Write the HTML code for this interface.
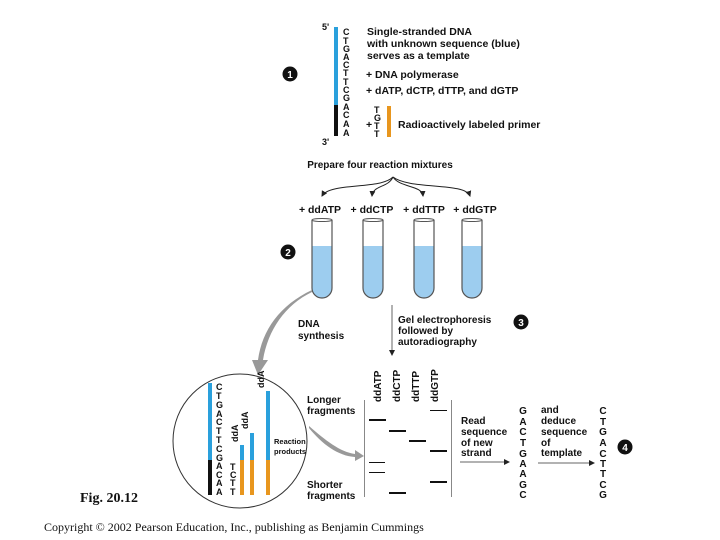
<!DOCTYPE html>
<html><head><meta charset="utf-8"><style>
body{margin:0;background:#fff}
svg{display:block}
text{font-family:"Liberation Sans",sans-serif;font-weight:bold;fill:#111}
.s{font-size:10.5px}
.m{font-size:10px}
.l{font-size:9px}
</style></head><body>
<svg width="720" height="540" viewBox="0 0 720 540">
<defs>
<marker id="a" markerWidth="6" markerHeight="6" refX="5" refY="3" orient="auto"><path d="M0,0L6,3L0,6z" fill="#222"/></marker>
</defs>
<text x="322" y="30" class="l" font-size="7">5'</text>
<text x="322" y="145" class="l" font-size="7">3'</text>
<rect x="334" y="27" width="4" height="78" fill="#2aa0dc"/>
<rect x="334" y="105" width="4" height="31" fill="#111"/>
<g class="l" font-size="9">
<text x="343" y="35">C</text><text x="343" y="44">T</text><text x="343" y="52">G</text><text x="343" y="60">A</text><text x="343" y="68">C</text><text x="343" y="76">T</text><text x="343" y="85">T</text><text x="343" y="93">C</text><text x="343" y="101">G</text><text x="343" y="110">A</text><text x="343" y="118">C</text><text x="343" y="127">A</text><text x="343" y="136">A</text>
</g>
<g class="l" font-size="8.5">
<text x="374" y="113">T</text><text x="374" y="121">G</text><text x="374" y="129">T</text><text x="374" y="137">T</text>
</g>
<rect x="387" y="106" width="4" height="31" fill="#e8961e"/>
<text x="367" y="35" class="s">Single-stranded DNA</text>
<text x="367" y="47" class="s">with unknown sequence (blue)</text>
<text x="367" y="59" class="s">serves as a template</text>
<text x="366" y="78" class="s">+ DNA polymerase</text>
<text x="366" y="94" class="s">+ dATP, dCTP, dTTP, and dGTP</text>
<text x="366" y="128" class="s">+</text>
<text x="398" y="128" class="s">Radioactively labeled primer</text>
<circle cx="290" cy="74" r="7.5" fill="#111"/><text x="290" y="78" text-anchor="middle" font-size="10" style="fill:#fff">1</text>
<text x="380" y="168" class="m" text-anchor="middle">Prepare four reaction mixtures</text>
<g fill="none" stroke="#222" stroke-width="1">
<path d="M393,177 C380,190 330,182 322,196" marker-end="url(#a)"/>
<path d="M393,177 C388,188 373,185 372,196" marker-end="url(#a)"/>
<path d="M393,177 C400,188 422,185 423,196" marker-end="url(#a)"/>
<path d="M393,177 C410,190 465,182 470,196" marker-end="url(#a)"/>
</g>
<text x="320" y="213" class="s" text-anchor="middle">+ ddATP</text>
<text x="372" y="213" class="s" text-anchor="middle">+ ddCTP</text>
<text x="424" y="213" class="s" text-anchor="middle">+ ddTTP</text>
<text x="475" y="213" class="s" text-anchor="middle">+ ddGTP</text>
<g>
<path d="M312,246 H332 V288 A10,10 0 0 1 312,288 Z" fill="#9dcdef"/>
<path d="M312,220 V288 A10,10 0 0 0 332,288 V220" fill="none" stroke="#555" stroke-width="1.2"/>
<ellipse cx="322" cy="220" rx="10" ry="1.5" fill="none" stroke="#555"/>
<path d="M363,246 H383 V288 A10,10 0 0 1 363,288 Z" fill="#9dcdef"/>
<path d="M363,220 V288 A10,10 0 0 0 383,288 V220" fill="none" stroke="#555" stroke-width="1.2"/>
<ellipse cx="373" cy="220" rx="10" ry="1.5" fill="none" stroke="#555"/>
<path d="M414,246 H434 V288 A10,10 0 0 1 414,288 Z" fill="#9dcdef"/>
<path d="M414,220 V288 A10,10 0 0 0 434,288 V220" fill="none" stroke="#555" stroke-width="1.2"/>
<ellipse cx="424" cy="220" rx="10" ry="1.5" fill="none" stroke="#555"/>
<path d="M462,246 H482 V288 A10,10 0 0 1 462,288 Z" fill="#9dcdef"/>
<path d="M462,220 V288 A10,10 0 0 0 482,288 V220" fill="none" stroke="#555" stroke-width="1.2"/>
<ellipse cx="472" cy="220" rx="10" ry="1.5" fill="none" stroke="#555"/>
</g>
<circle cx="288" cy="252" r="7.5" fill="#111"/><text x="288" y="256" text-anchor="middle" font-size="10" style="fill:#fff">2</text>
<path d="M312,290 C280,305 262,330 258,360 L252,360 L258,375 L268,360 L263,360 C268,330 285,305 312,292 Z" fill="#999"/>
<text x="298" y="327" class="m">DNA</text>
<text x="298" y="339" class="m">synthesis</text>
<line x1="392" y1="305" x2="392" y2="355" stroke="#666" marker-end="url(#a)"/>
<text x="398" y="323" class="m">Gel electrophoresis</text>
<text x="398" y="334" class="m">followed by</text>
<text x="398" y="345" class="m">autoradiography</text>
<circle cx="521" cy="322" r="7.5" fill="#111"/><text x="521" y="326" text-anchor="middle" font-size="10" style="fill:#fff">3</text>
<circle cx="240" cy="441" r="67" fill="none" stroke="#333" stroke-width="1"/>
<rect x="208" y="383" width="4" height="77" fill="#2aa0dc"/>
<rect x="208" y="460" width="4" height="35" fill="#111"/>
<g class="l" font-size="8.5">
<text x="216" y="390">C</text><text x="216" y="399">T</text><text x="216" y="408">G</text><text x="216" y="417">A</text><text x="216" y="425">C</text><text x="216" y="434">T</text><text x="216" y="443">T</text><text x="216" y="452">C</text><text x="216" y="461">G</text><text x="216" y="469">A</text><text x="216" y="478">C</text><text x="216" y="486">A</text><text x="216" y="495">A</text>
<text x="230" y="470">T</text><text x="230" y="478">C</text><text x="230" y="486">T</text><text x="230" y="495">T</text>
</g>
<rect x="240" y="445" width="4" height="15" fill="#2aa0dc"/><rect x="240" y="460" width="4" height="35" fill="#e8961e"/>
<rect x="250" y="433" width="4" height="27" fill="#2aa0dc"/><rect x="250" y="460" width="4" height="35" fill="#e8961e"/>
<rect x="266" y="391" width="4" height="69" fill="#2aa0dc"/><rect x="266" y="460" width="4" height="35" fill="#e8961e"/>
<text transform="translate(238,442) rotate(-90)" class="l" font-size="8.5">ddA</text>
<text transform="translate(248,429) rotate(-90)" class="l" font-size="8.5">ddA</text>
<text transform="translate(264,388) rotate(-90)" class="l" font-size="8.5">ddA</text>
<text x="274" y="444" font-size="7.5">Reaction</text>
<text x="274" y="454" font-size="7.5">products</text>
<text x="307" y="403" class="m">Longer</text>
<text x="307" y="414" class="m">fragments</text>
<text x="307" y="488" class="m">Shorter</text>
<text x="307" y="499" class="m">fragments</text>
<path d="M309,426 C325,440 340,452 355,454 L355,450 L364,456 L355,461 L355,457 C338,456 322,444 309,428 Z" fill="#999"/>
<line x1="364.5" y1="400" x2="364.5" y2="497" stroke="#888"/>
<line x1="451.5" y1="400" x2="451.5" y2="497" stroke="#888"/>
<g class="m" font-size="10">
<text transform="translate(381,402) rotate(-90)">ddATP</text>
<text transform="translate(400,402) rotate(-90)">ddCTP</text>
<text transform="translate(419,402) rotate(-90)">ddTTP</text>
<text transform="translate(438,402) rotate(-90)">ddGTP</text>
</g>
<g stroke="#111">
<line x1="369" y1="420" x2="386" y2="420" stroke-width="2"/>
<line x1="369" y1="462.5" x2="385" y2="462.5" stroke-width="1"/>
<line x1="369" y1="472.5" x2="385" y2="472.5" stroke-width="1"/>
<line x1="389" y1="431" x2="406" y2="431" stroke-width="2"/>
<line x1="389" y1="493" x2="406" y2="493" stroke-width="2"/>
<line x1="409" y1="441" x2="426" y2="441" stroke-width="2"/>
<line x1="430" y1="410.5" x2="447" y2="410.5" stroke-width="1"/>
<line x1="430" y1="451" x2="447" y2="451" stroke-width="2"/>
<line x1="430" y1="482" x2="447" y2="482" stroke-width="2"/>
</g>
<text x="461" y="424" class="m">Read</text>
<text x="461" y="435" class="m">sequence</text>
<text x="461" y="446" class="m">of new</text>
<text x="461" y="456" class="m">strand</text>
<line x1="460" y1="462" x2="509" y2="462" stroke="#666" marker-end="url(#a)"/>
<g class="m" text-anchor="middle" font-size="10">
<text x="523" y="414">G</text><text x="523" y="425">A</text><text x="523" y="435">C</text><text x="523" y="446">T</text><text x="523" y="457">G</text><text x="523" y="467">A</text><text x="523" y="477">A</text><text x="523" y="488">G</text><text x="523" y="498">C</text>
<text x="603" y="414">C</text><text x="603" y="425">T</text><text x="603" y="435">G</text><text x="603" y="446">A</text><text x="603" y="457">C</text><text x="603" y="467">T</text><text x="603" y="477">T</text><text x="603" y="488">C</text><text x="603" y="498">G</text>
</g>
<text x="541" y="413" class="m">and</text>
<text x="541" y="424" class="m">deduce</text>
<text x="541" y="435" class="m">sequence</text>
<text x="541" y="446" class="m">of</text>
<text x="541" y="456" class="m">template</text>
<line x1="538" y1="463" x2="594" y2="463" stroke="#666" marker-end="url(#a)"/>
<circle cx="625" cy="447" r="7.5" fill="#111"/><text x="625" y="451" text-anchor="middle" font-size="10" style="fill:#fff">4</text>
<text x="80" y="502" style="font-family:'Liberation Serif',serif;font-weight:bold;font-size:14px">Fig. 20.12</text>
<text x="44" y="531" style="font-family:'Liberation Serif',serif;font-weight:normal;font-size:12px">Copyright © 2002 Pearson Education, Inc., publishing as Benjamin Cummings</text>
</svg>
</body></html>
